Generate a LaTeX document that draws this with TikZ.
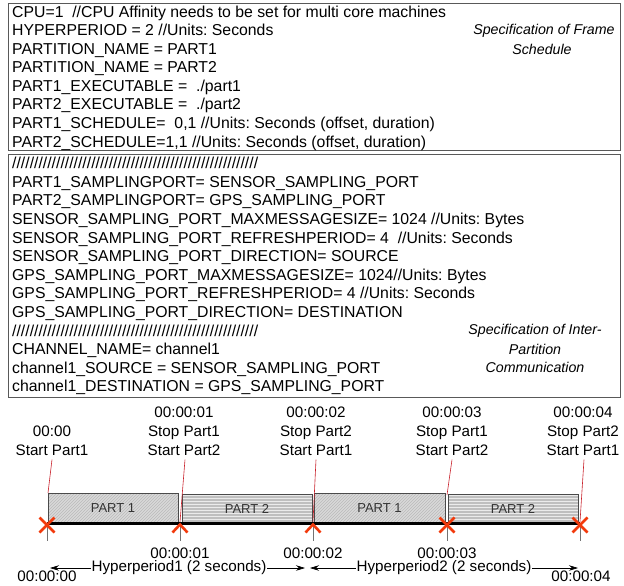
\documentclass[tikz,border=0pt]{standalone}
\usepackage{fontspec}
\setmainfont{Liberation Sans}
\usetikzlibrary{patterns,arrows.meta}
\definecolor{xred}{HTML}{F23A0C}
\definecolor{lred}{HTML}{C8202A}
\definecolor{barline}{HTML}{4A4A4A}
\begin{document}
\frenchspacing
\begin{tikzpicture}[x=1pt,y=-1pt,
  boxframe/.style={draw=black!65,line width=1pt},
  codeline/.style={anchor=base west,inner sep=0pt,font=\fontsize{15.8}{18.6}\selectfont},
  spec/.style={anchor=center,inner sep=0pt,font=\fontsize{14.2}{18.6}\selectfont\itshape},
  toplabel/.style={align=center,inner sep=0pt,font=\fontsize{15.2}{19}\selectfont},
  timelabel/.style={inner sep=0pt,font=\fontsize{15.2}{19}\selectfont},
  barbox/.style={draw=barline,line width=0.8pt},
  bartext/.style={font=\fontsize{13}{15}\selectfont,text=black!80},
  xmark/.style={draw=xred,line width=2.6pt},
  redlink/.style={draw=lred,line width=0.6pt},
  tick/.style={draw=black!55,line width=0.8pt},
  hyp/.style={draw=black,line width=0.7pt,{Stealth[length=9pt,width=5.5pt]}-{Stealth[length=9pt,width=5.5pt]}},
  hyptext/.style={fill=white,inner sep=1pt,font=\fontsize{15.2}{19}\selectfont}]
\useasboundingbox (0,0) rectangle (624,586);

% ---------- box 1 ----------
\draw[boxframe] (8,4) rectangle (620,150.5);
\node[codeline] (a1) at (12,17.5) {CPU=1\ \ //CPU Affinity needs to be set for multi core machines};
\node[codeline] (a2) at (12,36.0) {HYPERPERIOD = 2 //Units: Seconds};
\node[codeline] (a3) at (12,54.5) {PARTITION\_NAME = PART1};
\node[codeline] (a4) at (12,73.0) {PARTITION\_NAME = PART2};
\node[codeline] (a5) at (12,91.5) {PART1\_EXECUTABLE =\ \ ./part1};
\node[codeline] (a6) at (12,110.0) {PART2\_EXECUTABLE =\ \ ./part2};
\node[codeline] (a7) at (12,128.5) {PART1\_SCHEDULE=\ \ 0,1 //Units: Seconds (offset, duration)};
\node[codeline] (a8) at (12,147.0) {PART2\_SCHEDULE=1,1 //Units: Seconds (offset, duration)};
\node[spec] (s1) at (544,30.8) {Specification of Frame};
\node[spec] (s2) at (542,49.3) {Schedule};

% ---------- box 2 ----------
\draw[boxframe] (8,154) rectangle (620,397);
\node[codeline] (b1) at (12,168.7) {////////////////////////////////////////////////////////};
\node[codeline] (b2) at (12,187.3) {PART1\_SAMPLINGPORT= SENSOR\_SAMPLING\_PORT};
\node[codeline] (b3) at (12,205.9) {PART2\_SAMPLINGPORT= GPS\_SAMPLING\_PORT};
\node[codeline] (b4) at (12,224.5) {SENSOR\_SAMPLING\_PORT\_MAXMESSAGESIZE= 1024 //Units: Bytes};
\node[codeline] (b5) at (12,243.1) {SENSOR\_SAMPLING\_PORT\_REFRESHPERIOD= 4\ \ //Units: Seconds};
\node[codeline] (b6) at (12,261.7) {SENSOR\_SAMPLING\_PORT\_DIRECTION= SOURCE};
\node[codeline] (b7) at (12,280.3) {GPS\_SAMPLING\_PORT\_MAXMESSAGESIZE= 1024//Units: Bytes};
\node[codeline] (b8) at (12,298.9) {GPS\_SAMPLING\_PORT\_REFRESHPERIOD= 4 //Units: Seconds};
\node[codeline] (b9) at (12,317.5) {GPS\_SAMPLING\_PORT\_DIRECTION= DESTINATION};
\node[codeline] (b10) at (12,336.1) {////////////////////////////////////////////////////////};
\node[codeline] (b11) at (12,354.7) {CHANNEL\_NAME= channel1};
\node[codeline] (b12) at (12,373.3) {channel1\_SOURCE = SENSOR\_SAMPLING\_PORT};
\node[codeline] (b13) at (12,391.9) {channel1\_DESTINATION = GPS\_SAMPLING\_PORT};
\node[spec] (s3) at (535,330.4) {Specification of Inter-};
\node[spec] (s4) at (535,349) {Partition};
\node[spec] (s5) at (535,367.6) {Communication};

% ---------- time points ----------
\coordinate (t0) at (47,525);
\coordinate (t1) at (180,525);
\coordinate (t2) at (313,525);
\coordinate (t3) at (447,525);
\coordinate (t4) at (580,525);

% ticks below the axis
\foreach \t in {t0,t1,t2,t3,t4}
  \draw[tick] (\t) -- ++(0,16);

% ---------- bars ----------
\fill[black!15] (48,493) rectangle (178,523);
\fill[pattern=north east lines,pattern color=black!27] (48,493) rectangle (178,523);
\draw[barbox] (48,493) rectangle (178,523);
\node[bartext] (p1) at (113,508) {PART 1};

\fill[black!25] (182,494) rectangle (312,523);
\fill[pattern=horizontal lines,pattern color=black!8] (182,494) rectangle (312,523);
\draw[barbox] (182,494) rectangle (312,523);
\node[bartext] (p2) at (247,508.5) {PART 2};

\fill[black!15] (314,493) rectangle (445,523);
\fill[pattern=north east lines,pattern color=black!27] (314,493) rectangle (445,523);
\draw[barbox] (314,493) rectangle (445,523);
\node[bartext] (p3) at (379.5,508) {PART 1};

\fill[black!25] (448,494) rectangle (578,523);
\fill[pattern=horizontal lines,pattern color=black!8] (448,494) rectangle (578,523);
\draw[barbox] (448,494) rectangle (578,523);
\node[bartext] (p4) at (513,508.5) {PART 2};

% axis
\draw[line width=2.6pt,black] (47,523.5) -- (580,523.5);

% ---------- top labels ----------
\node[toplabel] (l0) at (52,440.5) {00:00\\Start Part1};
\node[toplabel] (l1) at (184,431) {00:00:01\\Stop Part1\\Start Part2};
\node[toplabel] (l2) at (316,431) {00:00:02\\Stop Part2\\Start Part1};
\node[toplabel] (l3) at (452,431) {00:00:03\\Stop Part1\\Start Part2};
\node[toplabel] (l4) at (583,431) {00:00:04\\Stop Part2\\Start Part1};

\draw[redlink] ([yshift=-4pt]l0.south) -- (48,493);
\draw[redlink] ([xshift=1pt,yshift=-4pt]l1.south) -- (180,522);
\draw[redlink] ([yshift=-4pt]l2.south) -- (313,522);
\draw[redlink] ([yshift=-4pt]l3.south) -- (447,495);
\draw[redlink] ([xshift=1pt,yshift=-4pt]l4.south) -- (580,522);

% ---------- markers ----------
\draw[xmark] ([shift={(-7.5,-7.5)}]t0) -- ([shift={(7.5,7.5)}]t0) ([shift={(7.5,-7.5)}]t0) -- ([shift={(-7.5,7.5)}]t0);
\draw[xmark] ([shift={(-7.5,7.5)}]t1) -- ([shift={(0,-0.5)}]t1) -- ([shift={(7.5,7.5)}]t1);
\draw[xmark] ([shift={(-7.5,7.5)}]t2) -- ([shift={(0,-0.5)}]t2) -- ([shift={(7.5,7.5)}]t2);
\draw[xmark] ([shift={(-7.5,-7.5)}]t3) -- ([shift={(7.5,7.5)}]t3) ([shift={(7.5,-7.5)}]t3) -- ([shift={(-7.5,7.5)}]t3);
\draw[xmark] ([shift={(-7.5,-7.5)}]t4) -- ([shift={(7.5,7.5)}]t4) ([shift={(7.5,-7.5)}]t4) -- ([shift={(-7.5,7.5)}]t4);

% ---------- bottom labels ----------
\node[timelabel] (d1) at (180,553) {00:00:01};
\node[timelabel] (d2) at (313,553) {00:00:02};
\node[timelabel] (d3) at (447,553) {00:00:03};

\coordinate (h1l) at (50,568);
\coordinate (h1r) at (305,568);
\coordinate (h2l) at (310,568);
\coordinate (h2r) at (578,568);
\draw[hyp] (h1r) -- (h1l);
\draw[hyp] (h2l) -- (h2r);
\node[hyptext] (hp1) at (179,568) {Hyperperiod1 (2 seconds)};
\node[hyptext] (hp2) at (444,568) {Hyperperiod2 (2 seconds)};

\node[timelabel] (d0) at (47,576.5) {00:00:00};
\node[timelabel] (d4) at (581,576) {00:00:04};
\end{tikzpicture}
\end{document}
